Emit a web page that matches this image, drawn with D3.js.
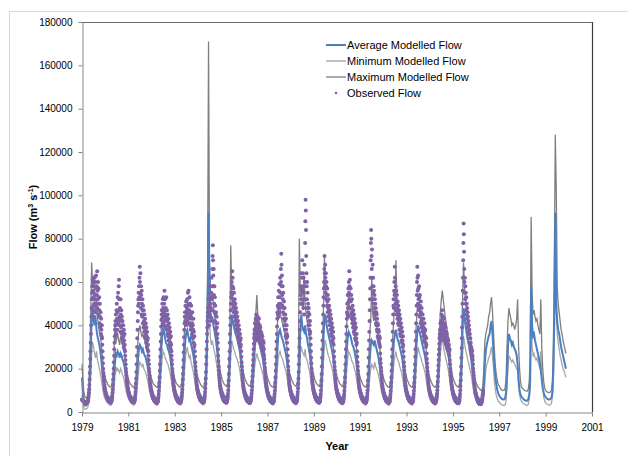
<!DOCTYPE html>
<html><head><meta charset="utf-8">
<script src="https://cdn.jsdelivr.net/npm/d3@7"></script>
<style>body{margin:0;background:#fff}svg{display:block}</style>
</head><body>
<svg id="chart" width="628" height="456"></svg>
<script>
// ---- data (flows in thousands of m3/s) ----
const startYear = 1979;
const modelStepsPerYear = 24;   // semi-monthly modelled values
const obsStepsPerYear = 104;    // twice-weekly observed values
const flowUnit = 1000;
const xTickValues = [1979,1981,1983,1985,1987,1989,1991,1993,1995,1997,1999,2001];
const yTickValues = [0,20000,40000,60000,80000,100000,120000,140000,160000,180000];
const seriesNames = ["Average Modelled Flow","Minimum Modelled Flow","Maximum Modelled Flow","Observed Flow"];

const avgFlow = [
16,8,4.5,3.2,3,3.3,4.5,7,13,26,44,50,42,40,44,38,35,33,31,28,24,19,15,12.5,
10.5,9,8,7.3,6.8,6.4,6.4,7.5,10,16,22,27,26,28,27,25,27,26,24,23,21,18,14.5,12,
10.5,9,8,7.3,6.8,6.4,6.5,7.5,10.5,17,24,29,31,30,28,29,27,26,25,23,21,17.5,14,12,
10.5,9,8,7.2,6.6,6.2,6.2,7.2,11,19,28,35,39,37,34,32,31,29,28,26,23,19,15.5,12.5,
10.5,9,8,7.2,6.6,6.2,6.2,7,10,17,26,33,37,38,35,33,34,31,29,27,24,20,16,13,
11,9.5,8.3,7.4,6.8,6.3,6.3,7.5,12,22,45,92,58,45,42,44,40,38,35,32,28,23,18,14,
11.5,10,8.8,7.8,7.2,6.7,6.7,8,13,24,36,45,42,40,38,36,35,33,31,29,26,21,17,13.5,
11,9.5,8.4,7.5,6.9,6.4,6.4,7.3,10,16,24,30,34,36,34,32,31,29,27,25,22,18,14.5,12,
10.5,9,8,7.2,6.6,6.2,6.2,7.2,10.5,18,27,34,37,38,36,34,33,31,29,27,24,20,16,13,
11,9.5,8.4,7.5,6.9,6.4,6.4,7.5,12,22,38,45,40,38,37,40,36,34,31,29,26,21,17,13.5,
11,9.5,8.4,7.5,6.9,6.4,6.5,7.8,12,22,34,43,45,41,38,36,34,32,30,28,25,20.5,16.5,13.5,
11,9.5,8.4,7.5,6.9,6.4,6.4,7.4,11,19,28,34,37,36,35,33,31,30,28,26,23,19,15.5,12.5,
10.5,9,8,7.2,6.6,6.2,6.2,7.2,10.5,17,25,31,33,32,31,33,31,29,27,25,22,18,15,12.5,
10.5,9,8,7.2,6.6,6.2,6.2,7.2,10.5,17,26,33,36,38,35,33,32,30,28,26,23,19,15.5,12.5,
10.5,9,8,7.2,6.6,6.2,6.2,7.2,11,19,29,36,40,38,36,34,32,30,28,26,23,19,15.5,12.5,
10.5,9,8,7.2,6.6,6.2,6.2,7,10,17,27,36,42,45,41,38,35,33,31,28,24,20,16,13,
10.5,9,8,7.2,6.6,6.2,6.2,7.4,12,23,38,48,44,40,37,34,32,30,27,24,20,16,12.5,10,
8.5,7.5,6.8,6.2,5.8,5.5,5.6,7,12,22,28,31,33,35,36,40,42,36,28,21,16,12.5,10,8.5,
7.5,6.8,6.3,6,5.8,5.8,6.2,9,18,30,36,34,33,31,32,30,29,28,26,22,15,10,8,7,
6.5,6,5.6,5.3,5.2,5.3,5.8,8,14,58,40,35,36,33,31,29,27,25,22,19,15,11,9,7.5,
6.8,6.3,6,5.8,5.8,6,6.5,9,20,45,92,50,42,38,36,33,30,28,26,24,22,20
];

const maxFlow = [
22,14,9,7,6.5,6.5,8,12,24,45,69,58,63,50,46,52,44,40,37,35,31,26,21,18,
16,14.5,13.5,12.5,12,11.5,11.5,13,17,25,41,32,34,36,33,31,35,33,31,29,27,23,19.5,17,
15.5,14,13,12.5,12,11.5,11.5,13,17,26,33,38,40,37,35,36,34,33,31,29,27,23,19.5,17,
15.5,14,13,12.5,12,11.5,11.5,13,18,28,38,44,45,42,40,38,37,35,33,31,28,24,20,17,
15.5,14,13,12.5,12,11.5,11.5,13,17,27,37,44,47,45,42,40,41,38,35,32,29,25,21,17.5,
16,14.5,13.5,12.5,12,11.5,11.5,13,19,32,62,171,70,56,52,54,49,46,42,38,34,28,23,19,
17,15,14,13,12.5,12,12,14,21,34,77,56,52,48,46,44,42,40,37,35,31,26,22,18.5,
16.5,15,14,13,12.5,12,12,13.5,17,26,35,42,46,54,45,42,40,38,35,33,30,25,21,18,
16,14.5,13.5,12.5,12,11.5,11.5,13,17,27,38,45,50,48,44,42,40,38,36,33,30,25,21,17.5,
16.5,15,14,13,12.5,12,12,14,20,80,55,58,50,47,63,50,45,42,39,36,32,27,22,18.5,
17,15,14,13,12.5,12,12,14,20,33,48,72,58,52,48,45,43,40,37,35,31,26,22,18.5,
16.5,15,14,13,12.5,12,12,13.5,18,28,40,46,55,48,45,43,41,39,36,34,30,25,21,17.5,
16,14.5,13.5,12.5,12,11.5,11.5,13,17,26,36,44,62,45,42,48,43,40,37,34,31,26,21.5,18,
16,14.5,13.5,12.5,12,11.5,11.5,13,17,27,37,45,48,70,50,45,43,40,37,34,31,26,21.5,18,
16,14.5,13.5,12.5,12,11.5,11.5,13,18,29,40,47,50,47,45,42,40,38,36,33,30,25,21,17.5,
16,14.5,13.5,12.5,12,11.5,11.5,12.5,16,26,37,46,52,56,52,48,44,41,38,35,31,26,21.5,18,
16,14.5,13.5,12.5,12,11.5,11.5,13.5,20,34,52,69,58,52,48,44,41,38,35,32,28,23,18.5,15,
13.5,12.5,11.5,11,10.5,10,10,12,20,32,36,38,40,44,46,50,53,46,37,28,21,17,14.5,12.5,
12,11,10.5,10,10,10,11,15,30,42,48,45,43,40,41,40,38,40,43,52,30,20,14,11.5,
11,10.5,10,9.8,9.6,9.6,10.5,14,25,90,55,45,47,44,42,43,40,38,36,52,30,20,14,11,
10,9.5,9.2,9,9,9.2,10,14,30,70,128,102,58,50,46,42,38,36,33,31,29,27
];

const minFlow = [
8,4,2.2,1.5,1.3,1.5,2.2,4,8,16,28,32,30,27,25,28,24,22,20,18,15,12,9,7,
6,5.2,4.5,4,3.6,3.2,3.1,4,6,10,16,21,19,20,19,18,20,19,17,16,14,11.5,9,7.5,
6.2,5.3,4.6,4,3.6,3.2,3.1,4,6,10.5,16,21,23,22,21,22,20,19,18,16.5,14.5,12,9.5,7.5,
6.2,5.3,4.6,4,3.6,3.2,3.1,4,6.5,12,19,25,28,27,25,24,23,22,20,18.5,16,13,10,8,
6.5,5.5,4.7,4.1,3.7,3.3,3.2,4,6.2,11,18,24,28,30,27,25,26,23,21,19,16.5,13.5,10.5,8.2,
6.5,5.5,4.8,4.2,3.7,3.3,3.2,4.2,7.5,15,30,70,42,34,31,33,30,28,26,23,20,16,12.5,9.5,
7.5,6.3,5.3,4.6,4,3.6,3.5,4.6,8,16,25,33,31,29,28,26,25,24,22,20,17.5,14,11,8.5,
7,6,5,4.4,3.9,3.5,3.4,4.2,6.3,11,17,22,25,27,25,24,23,21,19.5,18,15.5,12.5,10,8,
6.5,5.5,4.7,4.1,3.7,3.3,3.2,4,6.3,11.5,18,24,27,28,26,25,24,22,20.5,19,16.5,13.5,10.5,8.3,
6.8,5.8,5,4.3,3.8,3.4,3.3,4.3,7.5,15,27,30,28,27,26,29,25,24,22,20,17.5,14,11,8.5,
7,6,5,4.4,3.9,3.5,3.5,4.5,7.5,14,23,31,33,30,28,26,25,23,21.5,20,17.5,14,11,8.5,
7,6,5,4.4,3.9,3.5,3.4,4.3,6.8,12,19,24,28,27,26,24,23,22,20,18.5,16,13,10,8,
6.5,5.5,4.7,4.1,3.7,3.3,3.2,4,6.2,10.5,16,20,22,21,20,23,21,20,18.5,17,15,12,9.5,7.8,
6.4,5.4,4.6,4,3.6,3.2,3.1,4,6.3,11,17,23,26,28,25,24,23,21,19.5,18,15.5,12.5,10,8,
6.5,5.5,4.7,4.1,3.7,3.3,3.2,4,6.7,12,20,26,30,28,26,25,23,22,20,18.5,16,13,10,8,
6.5,5.5,4.7,4.1,3.7,3.3,3.2,4,6.2,11,19,26,32,35,31,28,26,24,22,20,17,14,11,8.5,
7,6,5,4.3,3.8,3.4,3.3,4.3,7.5,15,26,35,32,29,27,25,23,21,19,17,14,11,8.5,6.5,
5.5,4.8,4.2,3.7,3.3,3,3,4,7,13,19,22,23,25,26,28,30,26,20,14,10,7.5,6,5,
4.5,4,3.6,3.3,3.1,3,3.3,5,11,20,26,25,24,23,24,23,22,21,20,19,12,8,6,5,
4.3,3.9,3.6,3.3,3.1,3.1,3.5,6,11,45,30,26,27,25,24,25,23,22,20,28,17,11,7,5,
4.2,3.8,3.5,3.3,3.2,3.3,4,7,15,35,80,45,36,32,29,26,24,22,20,19,17.5,16
];

const observedFlow = [
// 1979
5.8,5.6,5.5,5.4,5.3,5.2,5.1,5,4.9,4.8,4.7,4.6,4.6,4.5,4.5,4.4,4.4,4.3,4.3,4.3,4.3,4.4,4.4,4.5,4.6,4.8,
5,5.4,6,6.8,7.8,9,10.5,12.5,15,18,21,24.5,28,32,36,40,44,48,52,55,
58,52,61,56,47,53,60,55,44,50,58,62,49,54,60,46,52,63,57,50,58,54,65,48,56,52,60,45,57,50,44,53,47,41,50,44,39,46,40,36,43,38,35,40,
34,31,28,25,22.5,20,18,16.5,15,13.8,12.8,11.8,11,10.3,
// 1980
9.8,9.3,8.9,8.5,8.1,7.7,7.3,7,6.7,6.4,6.2,6,5.8,5.6,5.4,5.2,5.1,5,4.9,4.8,4.7,4.6,4.5,4.5,4.4,4.4,
4.5,4.7,5,5.4,6,6.8,7.8,9,10.5,12.5,15,17.5,20,23,26,29,32,35,38,40,
42,38,45,40,36,47,50,43,38,46,53,41,55,47,42,58,61,52,44,40,48,43,37,52,45,39,47,42,36,44,40,34,42,37,32,40,35,30,38,33,29,36,31,28,
26,24,22,20,18.5,17,15.8,14.7,13.7,12.8,12,11.3,10.7,10.1,
// 1981
9.6,9.1,8.7,8.3,7.9,7.5,7.2,6.9,6.6,6.3,6.1,5.9,5.7,5.5,5.3,5.2,5.1,5,4.9,4.8,4.7,4.6,4.5,4.5,4.5,4.5,
4.6,4.9,5.3,5.9,6.7,7.8,9.2,11,13,15.5,18.5,22,26,30,34,38,42,46,49,52,
55,50,58,53,62,67,60,55,64,52,48,58,54,45,56,50,44,52,47,41,49,45,39,47,42,37,45,40,35,43,38,34,41,36,32,39,35,30,37,33,29,34,31,28,
26,24,22,20,18.5,17,15.6,14.4,13.3,12.4,11.6,10.9,10.3,9.8,
// 1982
9.3,8.9,8.5,8.1,7.7,7.3,7,6.7,6.4,6.1,5.9,5.7,5.5,5.3,5.1,5,4.9,4.8,4.7,4.6,4.5,4.4,4.4,4.3,4.3,4.4,
4.5,4.7,5,5.5,6.2,7.1,8.3,9.8,11.5,13.5,16,19,22,25.5,29,32.5,36,39.5,42.5,45,
47,43,50,45,41,52,48,44,53,46,40,50,56,47,42,52,45,39,48,43,53,44,38,47,42,36,45,40,35,43,38,33,41,36,31,39,34,30,37,32,29,35,31,28,
26,24,22,20,18.5,17,15.6,14.4,13.3,12.4,11.6,10.9,10.3,9.8,
// 1983
9.3,8.9,8.5,8.1,7.7,7.3,7,6.7,6.4,6.1,5.9,5.7,5.5,5.3,5.1,5,4.9,4.8,4.7,4.6,4.5,4.4,4.4,4.3,4.3,4.3,
4.4,4.6,4.9,5.3,5.9,6.7,7.7,9,10.5,12.5,15,17.5,20.5,24,27.5,31,34.5,38,41,44,
46,42,49,44,40,51,46,42,48,44,52,47,41,55,49,45,56,50,43,47,53,41,46,50,40,45,38,44,49,39,43,36,41,46,35,40,34,38,43,32,37,30,35,31,
28,25.5,23,21,19,17.3,15.8,14.5,13.4,12.4,11.6,10.9,10.3,9.8,
// 1984
9.3,8.9,8.5,8.1,7.7,7.4,7.1,6.8,6.5,6.2,6,5.8,5.6,5.4,5.2,5.1,5,4.9,4.8,4.7,4.6,4.5,4.5,4.4,4.4,4.5,
4.6,4.9,5.3,5.9,6.7,7.8,9.2,11,13,15.5,18.5,22,25.5,29,32.5,36,39,42,44,46,
48,44,52,46,40,55,49,45,58,50,44,53,48,42,55,62,52,47,58,66,72,77,70,63,58,66,54,50,58,46,53,42,49,45,38,46,41,36,44,39,34,41,36,32,
29,26,23.5,21,19,17.3,15.8,14.5,13.4,12.4,11.6,10.9,10.3,9.8,
// 1985
9.3,8.9,8.5,8.1,7.7,7.3,7,6.7,6.4,6.1,5.9,5.7,5.5,5.3,5.1,5,4.9,4.8,4.7,4.6,4.5,4.5,4.4,4.4,4.5,4.6,
4.8,5.1,5.6,6.3,7.2,8.4,10,12,14.5,17.5,21,24.5,28,32,36,40,43.5,47,50,53,
55,50,60,54,65,58,62,52,48,57,51,46,55,49,44,52,47,42,50,45,40,48,43,38,46,41,37,44,39,35,42,38,34,40,36,32,38,34,31,36,33,30,34,31,
28,25.5,23,21,19,17.3,15.8,14.5,13.4,12.4,11.6,10.9,10.3,9.8,
// 1986
9.3,8.9,8.5,8.1,7.7,7.3,7,6.7,6.4,6.1,5.9,5.7,5.5,5.3,5.1,5,4.9,4.8,4.7,4.6,4.5,4.4,4.4,4.3,4.3,4.3,
4.4,4.6,4.9,5.3,5.8,6.5,7.4,8.5,10,11.8,14,16.5,19,21.5,24,26.5,29,31.5,34,36,
38,35,41,37,33,43,39,35,45,40,36,42,38,34,44,39,35,41,37,33,43,38,34,40,36,32,39,35,31,37,34,30,36,32,29,35,31,28,33,30,27,32,29,26,
24.5,22.5,20.5,19,17.5,16.2,15,14,13,12.2,11.5,10.8,10.2,9.7,
// 1987
9.2,8.8,8.4,8,7.6,7.3,7,6.7,6.4,6.1,5.9,5.7,5.5,5.3,5.1,5,4.9,4.8,4.7,4.6,4.5,4.4,4.4,4.3,4.3,4.4,
4.5,4.7,5,5.5,6.2,7.1,8.3,9.8,11.5,13.5,16,19,22,25.5,29,32.5,36,39.5,43,46,
49,45,53,48,44,56,50,46,59,53,48,62,55,50,66,60,73,68,58,63,54,49,58,52,46,55,48,43,51,45,40,48,42,38,45,40,35,43,38,34,40,36,32,35,
29,26,23.5,21,19,17.3,15.8,14.5,13.4,12.4,11.6,10.9,10.3,9.8,
// 1988
9.3,8.9,8.5,8.1,7.7,7.3,7,6.7,6.4,6.1,5.9,5.7,5.5,5.3,5.1,5,4.9,4.8,4.7,4.6,4.5,4.4,4.4,4.4,4.4,4.5,
4.6,4.9,5.3,5.9,6.7,7.8,9.2,11,13,15.5,18.5,22,26,30,34,38,42,46,50,54,
58,52,64,57,50,62,70,56,50,64,58,48,62,55,45,58,68,60,52,78,88,98,93,84,72,64,58,52,60,48,55,44,50,46,40,48,42,38,45,40,36,42,37,34,
31,28,25,22.5,20,18,16.3,14.9,13.7,12.7,11.8,11,10.4,9.9,
// 1989
9.5,9,8.6,8.2,7.8,7.4,7.1,6.8,6.5,6.2,6,5.8,5.6,5.4,5.2,5.1,5,4.9,4.8,4.7,4.6,4.5,4.5,4.4,4.4,4.5,
4.7,5,5.5,6.2,7.1,8.3,10,12,14.5,17.5,21,25,29,33,37,41,45,49,53,57,
60,66,72,64,58,68,62,55,64,58,52,60,54,49,57,51,46,54,48,44,52,46,42,49,44,40,47,42,38,45,40,36,43,38,35,41,37,33,39,35,32,37,34,31,
28,25.5,23,21,19,17.3,15.8,14.5,13.4,12.4,11.6,10.9,10.3,9.8,
// 1990
9.3,8.9,8.5,8.1,7.7,7.3,7,6.7,6.4,6.1,5.9,5.7,5.5,5.3,5.1,5,4.9,4.8,4.7,4.6,4.5,4.4,4.4,4.3,4.3,4.4,
4.5,4.7,5,5.5,6.2,7.1,8.3,9.8,11.5,13.5,16,19,22,25.5,29,32.5,36,39.5,43,46,
50,45,54,48,44,57,51,60,55,65,58,52,61,54,48,57,51,45,54,48,43,52,46,41,49,44,39,47,42,37,45,40,36,43,38,34,41,36,33,39,34,31,36,32,
28,25.5,23,21,19,17.3,15.8,14.5,13.4,12.4,11.6,10.9,10.3,9.8,
// 1991
9.3,8.9,8.5,8.1,7.7,7.3,7,6.7,6.4,6.1,5.9,5.7,5.5,5.3,5.1,5,4.9,4.8,4.7,4.6,4.5,4.4,4.4,4.3,4.3,4.4,
4.5,4.7,5,5.5,6.2,7.2,8.5,10,12,14.5,17.5,21,25,29,33,37,42,47,52,57,
62,70,78,84,80,72,66,75,62,58,68,55,62,52,58,50,56,48,54,46,52,45,50,43,48,41,46,40,45,38,43,37,41,35,40,34,38,33,37,32,35,31,34,30,
27,24.5,22.5,20.5,18.8,17.2,15.8,14.5,13.4,12.4,11.6,10.9,10.3,9.8,
// 1992
9.3,8.9,8.5,8.1,7.7,7.3,7,6.7,6.4,6.1,5.9,5.7,5.5,5.3,5.1,5,4.9,4.8,4.7,4.6,4.5,4.4,4.4,4.3,4.3,4.4,
4.5,4.7,5,5.5,6.2,7.1,8.3,9.8,11.5,13.5,16,19,22,25.5,29,33,37,41,45,49,
52,48,56,60,54,67,62,55,50,58,52,47,56,50,45,54,48,43,51,46,41,49,44,40,47,42,38,45,40,36,43,38,35,41,37,33,39,35,32,37,33,30,35,31,
28,25.5,23,21,19,17.3,15.8,14.5,13.4,12.4,11.6,10.9,10.3,9.8,
// 1993
9.3,8.9,8.5,8.1,7.7,7.3,7,6.7,6.4,6.1,5.9,5.7,5.5,5.3,5.1,5,4.9,4.8,4.7,4.6,4.5,4.4,4.4,4.3,4.3,4.4,
4.5,4.7,5,5.5,6.2,7.1,8.3,9.8,11.5,13.5,16,19,22,25.5,29,33,37,41,45,49,
54,60,67,62,56,50,63,57,52,47,58,53,48,44,54,49,45,41,51,46,42,39,48,43,40,37,45,41,38,35,43,39,36,33,41,37,34,32,38,35,32,30,34,31,
27,24.5,22.5,20.5,18.8,17.2,15.8,14.5,13.4,12.4,11.6,10.9,10.3,9.8,
// 1994
9.2,8.8,8.4,8,7.6,7.3,7,6.7,6.4,6.1,5.9,5.7,5.5,5.3,5.1,5,4.9,4.8,4.7,4.6,4.5,4.4,4.4,4.3,4.3,4.3,
4.4,4.6,4.9,5.3,5.8,6.5,7.4,8.5,10,11.8,14,16.5,19,21.5,24,26.5,29,31.5,34,36,
38,35,41,37,33,42,38,45,40,36,47,42,38,44,39,35,43,38,34,41,37,33,40,36,32,39,35,31,37,33,30,36,32,29,34,31,28,33,30,27,31,28,26,29,
24,22,20,18.5,17,15.8,14.6,13.6,12.7,11.9,11.2,10.5,9.9,9.4,
// 1995
8.9,8.5,8.1,7.7,7.3,7,6.7,6.4,6.1,5.8,5.6,5.4,5.2,5,4.9,4.8,4.7,4.6,4.5,4.4,4.3,4.2,4.2,4.1,4.1,4.2,
4.3,4.5,4.8,5.3,6,7,8.3,10,12,14.5,17.5,21,25,29.5,34,39,44,50,56,62,
70,78,87,82,74,66,60,55,62,52,58,50,55,47,53,45,50,43,48,41,46,39,44,37,42,36,40,34,38,32,36,31,34,29,32,28,30,27,29,26,28,25,26,24,
22,20,18.3,16.8,15.4,14.2,13.1,12.1,11.2,10.4,9.7,9.1,8.6,8.2,
// 1996 (record ends in spring)
7.8,7.4,7,6.6,6.2,5.9,5.6,5.3,5,4.8,4.6,4.4,4.2,4.1,4,3.9,3.8,3.8,3.7,3.7,3.7,3.8,3.9,4.1,4.4,4.8,5.3,5.9,6.6,7.4,8.2,9,9.8
];

// ---- chart ----
const plot = {left: 82, right: 592, top: 22, bottom: 412};
const svg = d3.select("#chart");
const FONT = "'Liberation Sans', Arial, sans-serif";

svg.append("rect").attr("x", 9.5).attr("y", 11.5).attr("width", 700).attr("height", 500)
  .attr("fill", "#fff").attr("stroke", "#d9d9d9").attr("stroke-width", 1);

const x = d3.scaleLinear().domain([1979, 2001]).range([plot.left, plot.right]);
const y = d3.scaleLinear().domain([0, 180000]).range([plot.bottom, plot.top]);

const toModel = arr => arr.map((v, i) => ({t: startYear + i / modelStepsPerYear, v: v * flowUnit}));
const toObs = arr => arr.map((v, i) => ({t: startYear + i / obsStepsPerYear, v: v * flowUnit}));
const line = d3.line().x(d => x(d.t)).y(d => y(d.v));

// plot-area border (top & right)
svg.append("line").attr("x1", plot.left).attr("x2", plot.right).attr("y1", plot.top + 0.5).attr("y2", plot.top + 0.5)
  .attr("stroke", "#6e6e6e").attr("stroke-width", 1);
svg.append("line").attr("x1", plot.right + 0.5).attr("x2", plot.right + 0.5).attr("y1", plot.top).attr("y2", plot.bottom)
  .attr("stroke", "#3c3c3c").attr("stroke-width", 1.2);

const g = svg.append("g");
g.append("path").datum(toModel(minFlow)).attr("d", line)
  .attr("fill", "none").attr("stroke", "#a6a6a6").attr("stroke-width", 1.3);
g.append("path").datum(toModel(maxFlow)).attr("d", line)
  .attr("fill", "none").attr("stroke", "#7f7f7f").attr("stroke-width", 1.3);
g.append("path").datum(toModel(avgFlow)).attr("d", line)
  .attr("fill", "none").attr("stroke", "#4a80c2").attr("stroke-width", 2);
g.append("g").selectAll("circle").data(toObs(observedFlow)).join("circle")
  .attr("cx", d => x(d.t)).attr("cy", d => y(d.v)).attr("r", 2)
  .attr("fill", "#7f62a6");

// axes
const yAxis = d3.axisLeft(y).tickValues(yTickValues).tickSizeInner(4).tickSizeOuter(0).tickPadding(6)
  .tickFormat(d3.format("d"));
const xAxis = d3.axisBottom(x).tickValues(xTickValues).tickSizeInner(4).tickSizeOuter(0).tickPadding(7)
  .tickFormat(d3.format("d"));
const ya = svg.append("g").attr("transform", `translate(${plot.left + 0.5},0)`).call(yAxis);
const xa = svg.append("g").attr("transform", `translate(0,${plot.bottom + 0.5})`).call(xAxis);
[ya, xa].forEach(a => {
  a.select(".domain").attr("stroke", "#868686");
  a.selectAll(".tick line").attr("stroke", "#868686");
  a.selectAll("text").attr("fill", "#000").style("font-family", FONT).style("font-size", "10px");
});

// axis titles
svg.append("text").attr("x", (plot.left + plot.right) / 2).attr("y", 450)
  .attr("text-anchor", "middle").style("font-family", FONT).style("font-size", "11px")
  .style("font-weight", "bold").text("Year");
const yt = svg.append("text").attr("transform", `translate(37,${(plot.top + plot.bottom) / 2}) rotate(-90)`)
  .attr("text-anchor", "middle").style("font-family", FONT).style("font-size", "11px").style("font-weight", "bold");
yt.append("tspan").text("Flow (m");
yt.append("tspan").attr("dy", -4).style("font-size", "7px").text("3");
yt.append("tspan").attr("dy", 4).text(" s");
yt.append("tspan").attr("dy", -4).style("font-size", "7px").text("-1");
yt.append("tspan").attr("dy", 4).text(")");

// legend
const leg = svg.append("g");
const legY = [45, 61, 77, 93];
const legStyles = [
  {type: "line", color: "#4a80c2", w: 2},
  {type: "line", color: "#a0a0a0", w: 1.3},
  {type: "line", color: "#7f7f7f", w: 1.3},
  {type: "dot", color: "#7f62a6"}
];
seriesNames.forEach((name, i) => {
  const s = legStyles[i];
  if (s.type === "line") {
    leg.append("line").attr("x1", 326).attr("x2", 346).attr("y1", legY[i]).attr("y2", legY[i])
      .attr("stroke", s.color).attr("stroke-width", s.w);
  } else {
    leg.append("circle").attr("cx", 336).attr("cy", legY[i]).attr("r", 1.3).attr("fill", s.color);
  }
  leg.append("text").attr("x", 347).attr("y", legY[i]).attr("dy", "0.35em")
    .style("font-family", FONT).style("font-size", "11px").text(name);
});
</script>
</body></html>
